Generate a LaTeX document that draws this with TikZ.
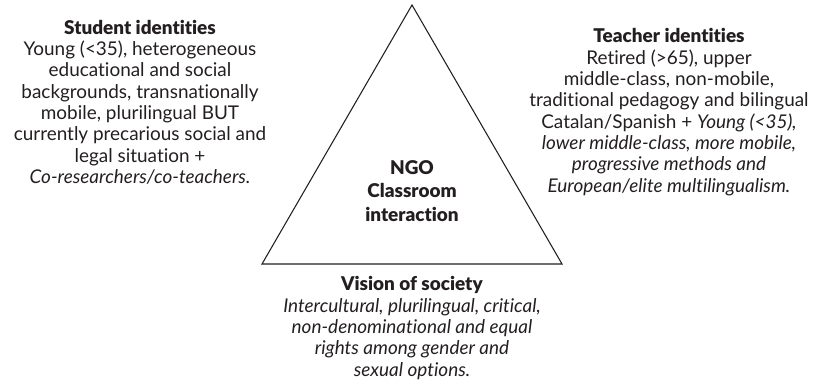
\documentclass[tikz,border=0pt]{standalone}
\usepackage{fontspec}
\setmainfont{Lato}[Ligatures=CommonOff, BoldFont={Lato Black}, BoldItalicFont={Lato Black Italic}]
\definecolor{figInk}{RGB}{35,31,32}

\begin{document}
\begin{tikzpicture}[
  x=0.75pt,
  y=-0.75pt,
  font=\fontsize{14.2}{16}\selectfont,
  block/.style={align=center, text=figInk, inner sep=0pt},
  centre/.style={block, font=\fontsize{14.2}{17.6}\selectfont\bfseries},
  edge/.style={draw=figInk, line width=0.8pt, line join=miter}
]
\useasboundingbox (0,0) rectangle (817,392);

\coordinate (apex) at (412,5);
\coordinate (baseL) at (262,264);
\coordinate (baseR) at (562,264);
\draw[edge] (apex) -- (baseR) -- (baseL) -- cycle;

\node[centre] (ngo) at (412,191) {NGO\\Classroom\\interaction};

\node[block] (students) at (140,102) {%
\textbf{Student identities}\\
Young (<35), heterogeneous\\
educational and social\\
backgrounds, transnationally\\
mobile, plurilingual BUT\\
currently precarious social and\\
legal situation +\\
\textit{Co-researchers/co-teachers.}};

\node[block] (teachers) at (669,112) {%
\textbf{Teacher identities}\\
Retired (>65), upper\\
middle-class, non-mobile,\\
traditional pedagogy and bilingual\\
Catalan/Spanish + \textit{Young (<35),}\\
\textit{lower middle-class, more mobile,}\\
\textit{progressive methods and}\\
\textit{European/elite multilingualism.}};

\node[block] (society) at (412,328) {%
\textbf{Vision of society}\\
\textit{Intercultural, plurilingual, critical,}\\
\textit{non-denominational and equal}\\
\textit{rights among gender and}\\
\textit{sexual options.}};
\end{tikzpicture}
\end{document}
